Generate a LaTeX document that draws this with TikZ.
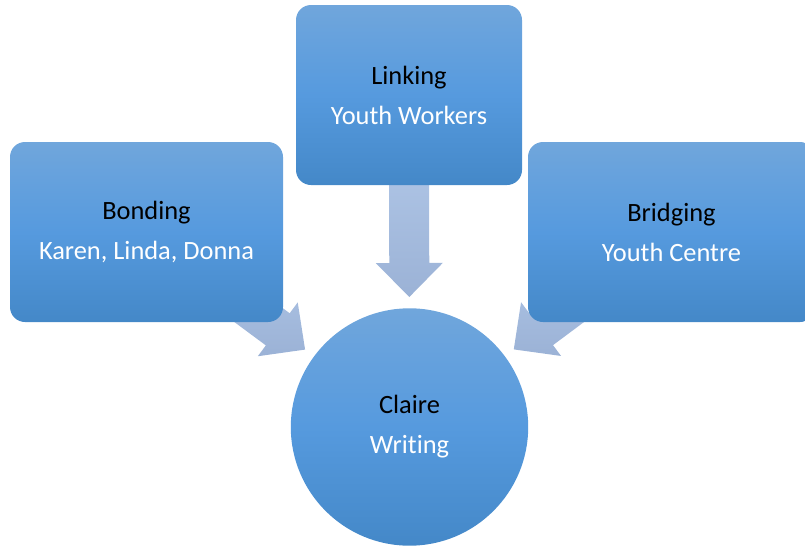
\documentclass[tikz,border=0pt]{standalone}
\usepackage{fontspec}
\setmainfont{Carlito}[Ligatures = NoCommon]
\usetikzlibrary{calc, backgrounds}
\definecolor{boxtop}{RGB}{112,166,220}
\definecolor{boxmid}{RGB}{86,154,222}
\definecolor{boxbot}{RGB}{68,136,200}
\definecolor{arrtop}{RGB}{184,206,237}
\definecolor{arrbot}{RGB}{155,178,214}
\tikzset{
  box/.style = {rectangle, rounded corners = 15pt, top color = boxtop, bottom color = boxbot, middle color = boxmid, align = center, inner sep = 0pt, font = \fontsize{26.4}{40}\selectfont},
  hub/.style = {circle, top color = boxtop, bottom color = boxbot, middle color = boxmid, align = center, inner sep = 0pt, font = \fontsize{26.4}{40}\selectfont},
  arrowfill/.style = {top color = arrtop, bottom color = arrbot}
}
\newcommand{\blockarrow}[2]{
\coordinate (tip) at ($(#2.center)!130pt!(#1.center)$);
\coordinate (hb) at ($(tip)!34pt!(#1.center)$);
\shade[arrowfill] ($(#1.center)!20pt!90:(tip)$) -- ($(hb)!20pt!90:(tip)$) -- ($(hb)!33.5pt!90:(tip)$) -- (tip) -- ($(hb)!33.5pt!-90:(tip)$) -- ($(hb)!20pt!-90:(tip)$) -- ($(#1.center)!20pt!-90:(tip)$) -- cycle;
}

\begin{document}
\begin{tikzpicture}[x = 1pt, y = -1pt]
\clip (0,0) rectangle (805,546);
\node[box, minimum width = 226pt, minimum height = 180pt] (linking) at (409,95) {Linking\\\textcolor{white}{Youth Workers}};
\node[box, minimum width = 273pt, minimum height = 180pt] (bonding) at (146.5,232) {Bonding\\\textcolor{white}{Karen, Linda, Donna}};
\node[box, minimum width = 287pt, minimum height = 180pt] (bridging) at (671.5,232) {Bridging\\\textcolor{white}{Youth Centre}};
\node[hub, minimum size = 237.4pt] (claire) at (409.5,427) {Claire\\\textcolor{white}{Writing}};
\begin{scope}[on background layer]
\blockarrow{linking}{claire}
\blockarrow{bonding}{claire}
\blockarrow{bridging}{claire}
\end{scope}
\end{tikzpicture}
\end{document}
